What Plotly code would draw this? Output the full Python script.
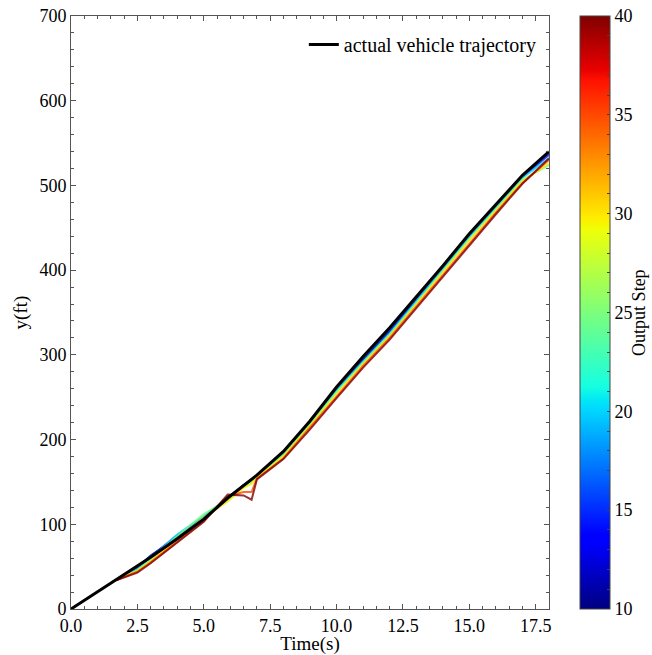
import plotly.graph_objects as go
from plotly.colors import sample_colorscale

# ---------------- data ----------------
time_actual = [0, 1.0, 1.7, 2.5, 3.0, 4.0, 5.0, 5.9, 6.5, 6.8, 7.0, 8.0, 9.0,
               10.0, 11.0, 12.0, 13.0, 14.0, 15.0, 16.0, 17.0, 18.0]
y_actual = [0, 20, 34, 51, 61, 83, 106, 131, 146, 153, 158, 186, 222,
            262, 298, 332, 368, 405, 443, 478, 512, 540]

# predicted trajectories (deviation from actual, ft) at time_actual[2:]
output_steps = [10, 15, 20, 25, 30, 35, 40]
dev_step10 = [0, -2, 2, 2, 0, -1, 0, -1, 0, -1, -1, -2, -3, -3, -2, -2, -2, -2, -1, -2]
dev_step15 = [0, -3, 1, 4, 2, 0, 0, -1, 0, -2, -2, -3, -5, -5, -3, -3, -3, -3, -2, -4]
dev_step20 = [0, -4, -1, 5, 4, -1, -1, -2, -1, -3, -3, -4, -6, -7, -5, -4, -4, -4, -3, -8]
dev_step25 = [0, -5, -3, 3, 6, -2, -2, -3, -2, -4, -4, -6, -7, -8, -7, -6, -6, -6, -5, -16]
dev_step30 = [0, -6, -5, -1, 2, -4, -3, -5, -3, -6, -6, -8, -9, -10, -9, -8, -8, -8, -7, -14]
dev_step35 = [0, -7, -6, -3, -2, 2, -8, -15, -4, -8, -8, -11, -11, -12, -11, -10, -11, -10, -9, -10]
dev_step40 = [0, -8, -7, -4, -3, 4, -12, -24, -5, -9, -10, -13, -13, -14, -13, -12, -13, -12, -10, -8]
deviations = [dev_step10, dev_step15, dev_step20, dev_step25, dev_step30, dev_step35, dev_step40]

x_ticks = [0, 2.5, 5.0, 7.5, 10.0, 12.5, 15.0, 17.5]
y_ticks = [0, 100, 200, 300, 400, 500, 600, 700]
cbar_ticks = list(range(10, 41))
cbar_labels = [str(v) if v % 5 == 0 else "" for v in cbar_ticks]

# matplotlib-style jet colorscale
jet = [[0.0, 'rgb(0,0,128)'], [0.11, 'rgb(0,0,255)'], [0.125, 'rgb(0,0,255)'],
       [0.34, 'rgb(0,219,255)'], [0.35, 'rgb(0,229,247)'], [0.375, 'rgb(21,255,226)'],
       [0.64, 'rgb(239,255,8)'], [0.65, 'rgb(247,246,0)'], [0.66, 'rgb(255,236,0)'],
       [0.89, 'rgb(255,19,0)'], [0.91, 'rgb(232,0,0)'], [1.0, 'rgb(128,0,0)']]

FONT = "Liberation Serif"

fig = go.Figure()

t_pred = time_actual[2:]
y_base = y_actual[2:]
for step, dev in zip(output_steps, deviations):
    frac = (step - 10) / 30
    col = sample_colorscale(jet, [frac])[0]
    fig.add_trace(go.Scatter(
        x=t_pred, y=[b + d for b, d in zip(y_base, dev)],
        mode="lines", line=dict(color=col, width=2),
        opacity=0.8, showlegend=False, hoverinfo="skip"))

fig.add_trace(go.Scatter(
    x=time_actual, y=y_actual, mode="lines",
    line=dict(color="black", width=3),
    name="actual vehicle trajectory"))

# colorbar carrier
fig.add_trace(go.Scatter(
    x=[None], y=[None], mode="markers", showlegend=False, hoverinfo="skip",
    marker=dict(color=[10], cmin=10, cmax=40, colorscale=jet, showscale=True,
                colorbar=dict(
                    x=1.065, xanchor="left", xref="paper",
                    y=0.5, yanchor="middle", len=1.0, lenmode="fraction",
                    thickness=30, thicknessmode="pixels", xpad=0, ypad=0,
                    outlinewidth=1, outlinecolor="#444",
                    tickvals=cbar_ticks, ticktext=cbar_labels,
                    ticks="inside", ticklen=3, tickcolor="#444",
                    tickfont=dict(family=FONT, size=18, color="black")))))

fig.add_annotation(
    text="Output Step", textangle=-90, showarrow=False,
    xref="paper", yref="paper", x=1.187, y=0.5, xanchor="center", yanchor="middle",
    font=dict(family=FONT, size=18, color="black"))

axis_common = dict(
    showgrid=False, zeroline=False, showline=True, mirror="ticks",
    linecolor="#555", linewidth=1, ticks="inside", ticklen=5, tickcolor="#555",
    tickfont=dict(family=FONT, size=18, color="black"),
)

fig.update_xaxes(range=[0, 18], tickvals=x_ticks, ticktext=[f"{v:.1f}" for v in x_ticks],
                 title=dict(text="Time(s)", font=dict(family=FONT, size=19, color="black"),
                            standoff=2),
                 minor=dict(ticks="inside", ticklen=3, dtick=0.5, tick0=0, tickcolor="#555"),
                 **axis_common)
fig.update_yaxes(range=[0, 700], tickvals=y_ticks,
                 title=dict(text="y(ft)", font=dict(family=FONT, size=19, color="black"),
                            standoff=6),
                 minor=dict(ticks="inside", ticklen=3, dtick=20, tick0=0, tickcolor="#555"),
                 **axis_common)

fig.update_layout(
    width=652, height=655,
    margin=dict(l=71, r=103, t=16, b=46, autoexpand=False),
    paper_bgcolor="white", plot_bgcolor="white",
    font=dict(family=FONT, size=17, color="black"),
    legend=dict(x=0.985, y=0.985, xanchor="right", yanchor="top",
                bgcolor="rgba(255,255,255,0)", borderwidth=0,
                font=dict(family=FONT, size=20, color="black")),
)

fig.write_html("out.html")
